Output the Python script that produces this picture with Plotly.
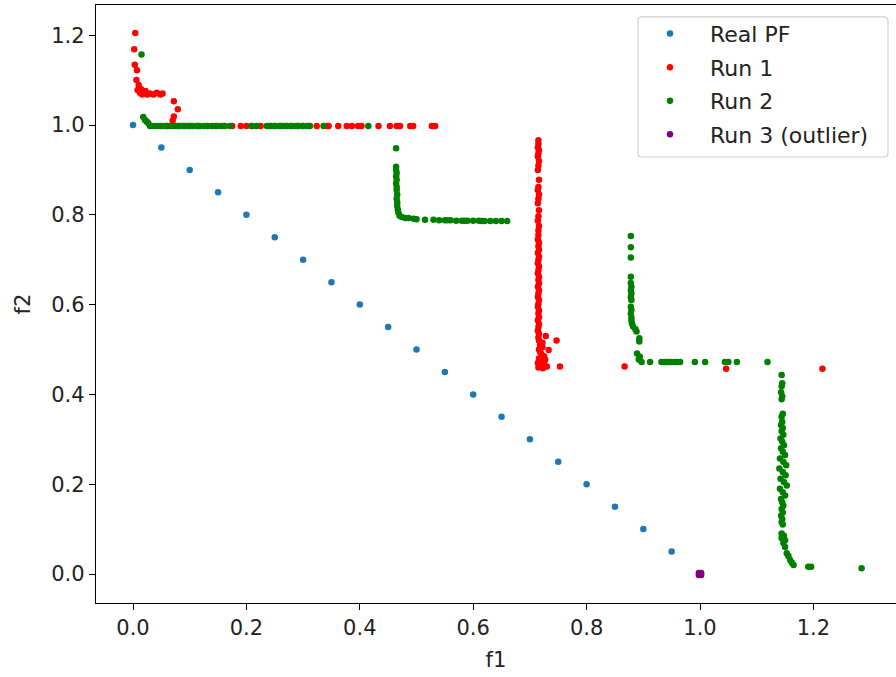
import plotly.graph_objects as go

# --- Reference Pareto front ---
pf_f1 = [0.0, 0.05, 0.1, 0.15, 0.2, 0.25, 0.3, 0.35, 0.4, 0.45, 0.5,
         0.55, 0.6, 0.65, 0.7, 0.75, 0.8, 0.85, 0.9, 0.95, 1.0]
pf_f2 = [1.0, 0.95, 0.9, 0.85, 0.8, 0.75, 0.7, 0.65, 0.6, 0.55, 0.5,
         0.45, 0.4, 0.35, 0.3, 0.25, 0.2, 0.15, 0.1, 0.05, 0.0]

# --- Run 1 ---
run1_f1 = [
    0.004, 0.002, 0.003, 0.007, 0.006, 0.010, 0.008, 0.012, 0.016, 0.020,
    0.025, 0.030, 0.036, 0.042, 0.048, 0.052, 0.014, 0.022, 0.072, 0.079,
    0.072, 0.070,
    0.060, 0.080, 0.100, 0.115, 0.130, 0.145, 0.160, 0.175, 0.190, 0.200,
    0.210, 0.225, 0.240, 0.250, 0.260, 0.270, 0.280, 0.290, 0.300, 0.310,
    0.324, 0.342, 0.345, 0.362, 0.377, 0.386, 0.397, 0.403, 0.433, 0.453,
    0.465, 0.471, 0.489, 0.494, 0.527, 0.533,
    0.715, 0.715, 0.714, 0.716, 0.715, 0.714, 0.716, 0.715, 0.714, 0.716,
    0.715, 0.714, 0.716, 0.715, 0.714, 0.716, 0.715, 0.714, 0.716, 0.715,
    0.715, 0.714, 0.716, 0.715, 0.716, 0.714, 0.716, 0.715, 0.714, 0.716,
    0.715, 0.714, 0.716, 0.715, 0.716, 0.714, 0.716, 0.715, 0.714, 0.716,
    0.715, 0.714, 0.716, 0.715, 0.716, 0.714, 0.716, 0.715, 0.714, 0.716,
    0.715, 0.716,
    0.718, 0.722, 0.728, 0.747, 0.733, 0.720, 0.716, 0.725, 0.727, 0.714,
    0.720, 0.730, 0.715, 0.753, 0.725, 0.718, 0.722, 0.716, 0.719, 0.723,
    0.867, 1.046, 1.216,
]
run1_f2 = [
    1.205, 1.169, 1.134, 1.122, 1.100, 1.089, 1.078, 1.072, 1.068, 1.072,
    1.068, 1.070, 1.068, 1.072, 1.068, 1.070, 1.080, 1.076, 1.053, 1.035,
    1.019, 1.010,
    0.998, 0.998, 0.998, 0.998, 0.998, 0.998, 0.998, 0.998, 0.998, 0.998,
    0.998, 0.998, 0.998, 0.998, 0.998, 0.998, 0.998, 0.998, 0.998, 0.998,
    0.998, 0.998, 0.998, 0.998, 0.998, 0.998, 0.998, 0.998, 0.998, 0.998,
    0.998, 0.998, 0.998, 0.998, 0.998, 0.998,
    0.966, 0.958, 0.950, 0.944, 0.937, 0.930, 0.920, 0.910, 0.900, 0.878,
    0.862, 0.855, 0.845, 0.836, 0.826, 0.810, 0.797, 0.787, 0.775, 0.765,
    0.755, 0.745, 0.738, 0.730, 0.722, 0.715, 0.707, 0.700, 0.692, 0.685,
    0.677, 0.670, 0.662, 0.655, 0.647, 0.640, 0.632, 0.625, 0.617, 0.610,
    0.602, 0.595, 0.587, 0.580, 0.572, 0.565, 0.557, 0.550, 0.542, 0.535,
    0.527, 0.520,
    0.510, 0.505, 0.530, 0.520, 0.499, 0.490, 0.480, 0.485, 0.477, 0.470,
    0.465, 0.462, 0.460, 0.462, 0.468, 0.495, 0.515, 0.500, 0.474, 0.458,
    0.462, 0.457, 0.457,
]

# --- Run 2 ---
run2_f1 = [
    0.015, 0.018, 0.021, 0.027, 0.024,
    0.030, 0.035, 0.040, 0.045, 0.050, 0.055, 0.060, 0.065, 0.070, 0.075,
    0.080, 0.085, 0.090, 0.095, 0.100, 0.105, 0.112, 0.118, 0.125, 0.132,
    0.139, 0.148, 0.155, 0.162, 0.171, 0.209, 0.218, 0.236, 0.243, 0.250,
    0.257, 0.264, 0.271, 0.278, 0.285, 0.292, 0.299, 0.306, 0.312, 0.336,
    0.415,
    0.464, 0.464, 0.464, 0.465, 0.464, 0.465, 0.464, 0.465, 0.465, 0.466,
    0.465, 0.466, 0.466, 0.467, 0.468, 0.470, 0.474, 0.480, 0.486, 0.495,
    0.500, 0.515, 0.530, 0.540, 0.550, 0.555, 0.560, 0.570, 0.580, 0.585,
    0.590, 0.600, 0.610, 0.615, 0.620, 0.630, 0.640, 0.650, 0.660,
    0.878, 0.878, 0.878, 0.878, 0.878, 0.879, 0.878, 0.879, 0.878, 0.879,
    0.878, 0.879, 0.878, 0.879, 0.879, 0.880, 0.882, 0.886, 0.888, 0.893,
    0.893, 0.889, 0.894, 0.892, 0.897, 0.912, 0.932, 0.937, 0.941, 0.946,
    0.950, 0.955, 0.959, 0.965, 0.991, 1.009, 1.044, 1.050, 1.065, 1.119,
    1.144, 1.145, 1.144, 1.143, 1.145, 1.144, 1.146, 1.144, 1.145,
    1.143, 1.146, 1.144, 1.147, 1.142, 1.145, 1.148, 1.143, 1.146, 1.150,
    1.141, 1.147, 1.152, 1.140, 1.146, 1.151, 1.142, 1.148, 1.153, 1.141,
    1.146, 1.150, 1.143, 1.145, 1.147, 1.144, 1.146, 1.143, 1.145, 1.144,
    1.146,
    1.144, 1.148, 1.144, 1.150, 1.147, 1.150, 1.153, 1.156, 1.159, 1.162,
    1.165, 1.191, 1.196, 1.285,
]
run2_f2 = [
    1.157, 1.018, 1.011, 1.004, 1.008,
    0.998, 0.998, 0.998, 0.998, 0.998, 0.998, 0.998, 0.998, 0.998, 0.998,
    0.998, 0.998, 0.998, 0.998, 0.998, 0.998, 0.998, 0.998, 0.998, 0.998,
    0.998, 0.998, 0.998, 0.998, 0.998, 0.998, 0.998, 0.998, 0.998, 0.998,
    0.998, 0.998, 0.998, 0.998, 0.998, 0.998, 0.998, 0.998, 0.998, 0.998,
    0.998,
    0.948, 0.907, 0.900, 0.893, 0.886, 0.878, 0.870, 0.862, 0.855, 0.845,
    0.836, 0.828, 0.820, 0.812, 0.805, 0.798, 0.795, 0.793, 0.793, 0.791,
    0.790, 0.789, 0.789, 0.788, 0.788, 0.788, 0.788, 0.787, 0.787, 0.787,
    0.787, 0.787, 0.787, 0.786, 0.786, 0.786, 0.786, 0.786, 0.786,
    0.753, 0.728, 0.705, 0.662, 0.648, 0.640, 0.632, 0.625, 0.617, 0.610,
    0.595, 0.588, 0.580, 0.572, 0.565, 0.558, 0.551, 0.545, 0.540, 0.525,
    0.518, 0.491, 0.484, 0.478, 0.472, 0.472, 0.472, 0.472, 0.472, 0.472,
    0.472, 0.472, 0.472, 0.472, 0.472, 0.472, 0.472, 0.472, 0.472, 0.472,
    0.443, 0.425, 0.418, 0.405, 0.396, 0.389, 0.357, 0.350, 0.339,
    0.332, 0.325, 0.318, 0.310, 0.302, 0.295, 0.287, 0.280, 0.272, 0.265,
    0.257, 0.250, 0.242, 0.235, 0.227, 0.220, 0.212, 0.205, 0.197, 0.190,
    0.182, 0.175, 0.167, 0.160, 0.152, 0.145, 0.137, 0.130, 0.122, 0.115,
    0.110,
    0.090, 0.085, 0.080, 0.075, 0.069, 0.060, 0.046, 0.040, 0.031, 0.025,
    0.020, 0.016, 0.016, 0.013,
]

# --- Run 3 (collapsed onto a single solution) ---
run3_f1 = [0.998, 1.002, 0.998, 1.002, 1.000]
run3_f2 = [0.002, 0.002, -0.002, -0.002, 0.000]

FONT = "DejaVu Sans"
FS = 21
series = [
    ("Real PF", pf_f1, pf_f2, "#1f77b4"),
    ("Run 1", run1_f1, run1_f2, "#ff0000"),
    ("Run 2", run2_f1, run2_f2, "#008000"),
    ("Run 3 (outlier)", run3_f1, run3_f2, "#800080"),
]

fig = go.Figure()
for name, xs, ys, color in series:
    fig.add_trace(go.Scatter(
        x=xs, y=ys, mode="markers", name=name, legendgroup=name,
        marker=dict(color=color, size=6.5, line=dict(width=0)),
    ))

axis_common = dict(
    showgrid=False, zeroline=False, showline=True, linecolor="black",
    linewidth=1.3, ticks="outside", ticklen=6, tickwidth=1.3,
    tickcolor="black", tickfont=dict(family=FONT, size=FS, color="#222"),
    tickformat=".1f",
)

# Rounded frame drawn behind the legend entries (paper coordinates)
def rounded_rect(x0, y0, x1, y1, rx, ry):
    return (f"M {x0 + rx},{y0} L {x1 - rx},{y0} Q {x1},{y0} {x1},{y0 + ry} "
            f"L {x1},{y1 - ry} Q {x1},{y1} {x1 - rx},{y1} "
            f"L {x0 + rx},{y1} Q {x0},{y1} {x0},{y1 - ry} "
            f"L {x0},{y0 + ry} Q {x0},{y0} {x0 + rx},{y0} Z")

legend_frame = dict(
    type="path", xref="paper", yref="paper",
    path=rounded_rect(0.6775, 0.7458, 0.99, 0.98, 0.005, 0.0067),
    line=dict(color="#d0d0d0", width=1.2), fillcolor="rgba(255,255,255,0.8)",
    layer="below",
)

fig.update_layout(
    width=896, height=677,
    margin=dict(l=96, r=0, t=5, b=74),
    paper_bgcolor="white", plot_bgcolor="white",
    font=dict(family=FONT, size=FS, color="#222"),
    xaxis=dict(
        **axis_common, range=[-0.0653, 1.3457], tick0=0, dtick=0.2,
        mirror=True,
        title=dict(text="f1", font=dict(family=FONT, size=FS), standoff=12),
    ),
    yaxis=dict(
        **axis_common, range=[-0.0646, 1.2673], tick0=0, dtick=0.2,
        title=dict(text="f2", font=dict(family=FONT, size=FS), standoff=14),
    ),
    shapes=[legend_frame],
    legend=dict(
        x=0.6675, y=0.987, xanchor="left", yanchor="top",
        bgcolor="rgba(0,0,0,0)", borderwidth=0,
        font=dict(family=FONT, size=22, color="#222"),
        itemwidth=70, tracegroupgap=2, traceorder="grouped",
    ),
    showlegend=True,
)

fig.write_html("out.html")
